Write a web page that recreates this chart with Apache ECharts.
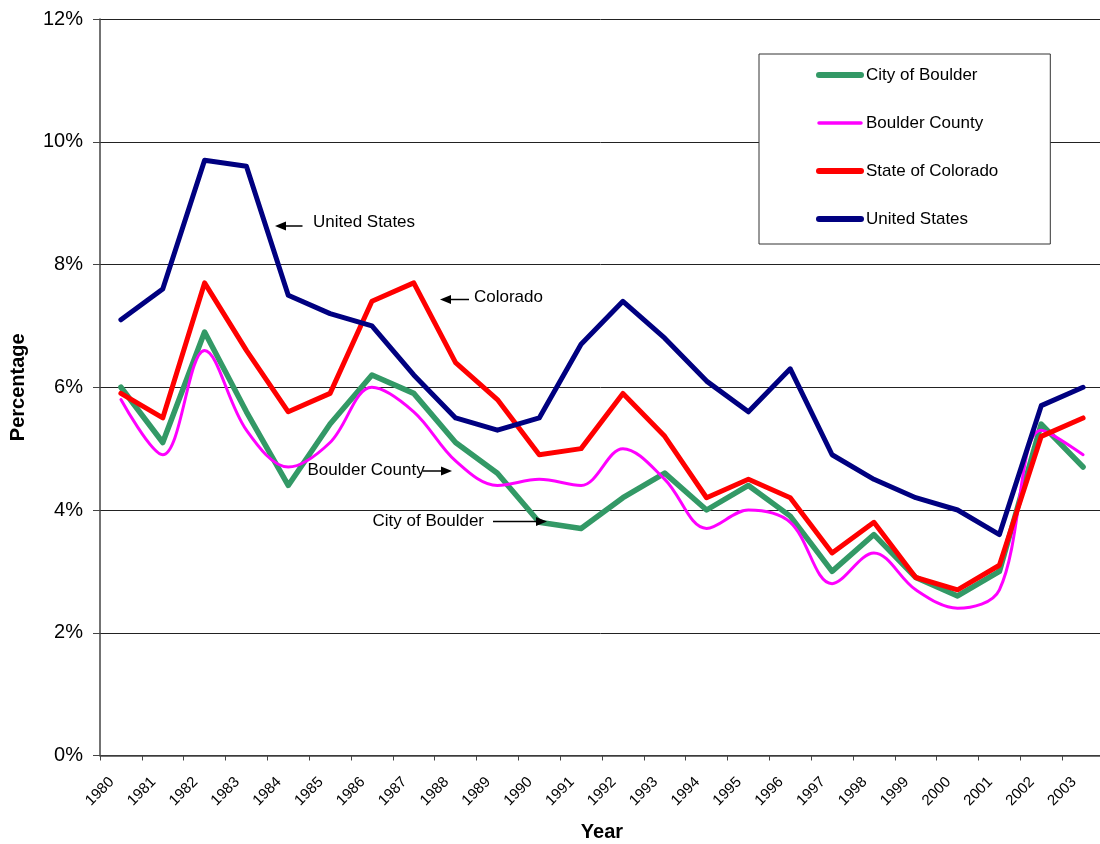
<!DOCTYPE html>
<html>
<head>
<meta charset="utf-8">
<script src="https://cdn.jsdelivr.net/npm/echarts@6/dist/echarts.min.js"></script>
<style>
html,body{margin:0;padding:0;background:#fff;}
#chart{width:1100px;height:844px;}
</style>
</head>
<body>
<div id="chart"></div>
<script>
var years = ['1980','1981','1982','1983','1984','1985','1986','1987','1988','1989','1990','1991','1992','1993','1994','1995','1996','1997','1998','1999','2000','2001','2002','2003'];
var cityOfBoulder = [6.0,5.1,6.9,5.6,4.4,5.4,6.2,5.9,5.1,4.6,3.8,3.7,4.2,4.6,4.0,4.4,3.9,3.0,3.6,2.9,2.6,3.0,5.4,4.7];
var boulderCounty = [5.8,4.9,6.6,5.3,4.7,5.1,6.0,5.6,4.8,4.4,4.5,4.4,5.0,4.5,3.7,4.0,3.8,2.8,3.3,2.7,2.4,2.7,5.3,4.9];
var stateOfColorado = [5.9,5.5,7.7,6.6,5.6,5.9,7.4,7.7,6.4,5.8,4.9,5.0,5.9,5.2,4.2,4.5,4.2,3.3,3.8,2.9,2.7,3.1,5.2,5.5];
var unitedStates = [7.1,7.6,9.7,9.6,7.5,7.2,7.0,6.2,5.5,5.3,5.5,6.7,7.4,6.8,6.1,5.6,6.3,4.9,4.5,4.2,4.0,3.6,5.7,6.0];
var yTicks = [0,2,4,6,8,10,12];

var FONT = "'Liberation Sans', Arial, Helvetica, sans-serif";

function arrow(x1, x2, y) {
  var dir = x2 > x1 ? 1 : -1;
  var headLen = 11, headHalf = 4.5;
  return [
    {type:'line', shape:{x1:x1, y1:y, x2:x2 - dir*headLen*0.8, y2:y}, style:{stroke:'#000', lineWidth:1.5}, z:100},
    {type:'polygon', shape:{points:[[x2,y],[x2 - dir*headLen, y-headHalf],[x2 - dir*headLen, y+headHalf]]}, style:{fill:'#000'}, z:100}
  ];
}
function note(text, x, y) {
  return {type:'text', x:x, y:y, style:{text:text, fill:'#000', font:'17px ' + FONT, textVerticalAlign:'middle', textAlign:'left'}, z:100};
}

var graphics = [].concat(
  [note('United States', 313, 222.5)], arrow(302.5, 275, 226),
  [note('Colorado', 474, 297.5)], arrow(469, 440, 299.5),
  [note('Boulder County', 307.5, 470.5)], arrow(422.5, 452, 471),
  [note('City of Boulder', 372.5, 521.5)], arrow(493, 547, 521.5)
);

function mk(name, data, color, width, smooth) {
  return {
    name: name, type: 'line', data: data,
    symbol: 'none', showSymbol: false,
    smooth: smooth || false,
    lineStyle: {color: color, width: width, cap: 'round', join: 'round'},
    itemStyle: {color: color},
    emphasis: {disabled: true},
    animation: false
  };
}
function legItem(name, color, width) {
  return {name: name, lineStyle: {color: color, width: width, cap: 'round'}, itemStyle: {opacity: 0}};
}

var chart = echarts.init(document.getElementById('chart'), null, {renderer:'canvas'});
chart.setOption({
  animation: false,
  backgroundColor: '#fff',
  textStyle: {fontFamily: FONT},
  grid: {left: 100, top: 19, right: -4, bottom: 88.5, containLabel: false, outerBoundsMode: 'none'},
  legend: {
    orient: 'vertical',
    left: 759, top: 54,
    padding: [12, 52, 16, 57],
    itemGap: 30,
    itemWidth: 42, itemHeight: 14,
    backgroundColor: '#fff',
    borderColor: '#333', borderWidth: 1,
    itemStyle: {opacity: 0},
    textStyle: {fontSize: 17, color: '#000', fontFamily: FONT, lineHeight: 18},
    selectedMode: false,
    data: [
      legItem('City of Boulder', '#339966', 6),
      legItem('Boulder County', '#FF00FF', 3.5),
      legItem('State of Colorado', '#FF0000', 6),
      legItem('United States', '#000080', 6)
    ]
  },
  xAxis: {
    type: 'category',
    data: years,
    boundaryGap: true,
    name: 'Year',
    nameLocation: 'middle',
    nameGap: 67,
    nameMoveOverlap: false,
    nameTextStyle: {fontSize: 20, fontWeight: 'bold', color: '#000', fontFamily: FONT},
    axisLine: {lineStyle: {color: '#444', width: 1.5}},
    axisTick: {show: true, interval: 0, length: 5, inside: false, lineStyle: {color: '#444', width: 1}},
    axisLabel: {interval: 0, rotate: 45, fontSize: 15, color: '#000', margin: 15, padding: [0, 13, 0, 0], fontFamily: FONT},
    splitLine: {show: false}
  },
  yAxis: {
    type: 'value',
    min: yTicks[0], max: yTicks[yTicks.length-1], interval: 2,
    name: 'Percentage',
    nameLocation: 'middle',
    nameGap: 72,
    nameMoveOverlap: false,
    nameTextStyle: {fontSize: 20, fontWeight: 'bold', color: '#000', fontFamily: FONT},
    axisLine: {show: true, lineStyle: {color: '#444', width: 1.5}},
    axisTick: {show: true, length: 7, inside: false, lineStyle: {color: '#444', width: 1}},
    axisLabel: {formatter: '{value}%', fontSize: 20, color: '#000', margin: 17, fontFamily: FONT},
    splitLine: {show: true, lineStyle: {color: '#222', width: 1}}
  },
  series: [
    mk('City of Boulder', cityOfBoulder, '#339966', 5.5),
    mk('Boulder County', boulderCounty, '#FF00FF', 3, 0.35),
    mk('State of Colorado', stateOfColorado, '#FF0000', 5),
    mk('United States', unitedStates, '#000080', 5)
  ],
  graphic: graphics
});
</script>
</body>
</html>
